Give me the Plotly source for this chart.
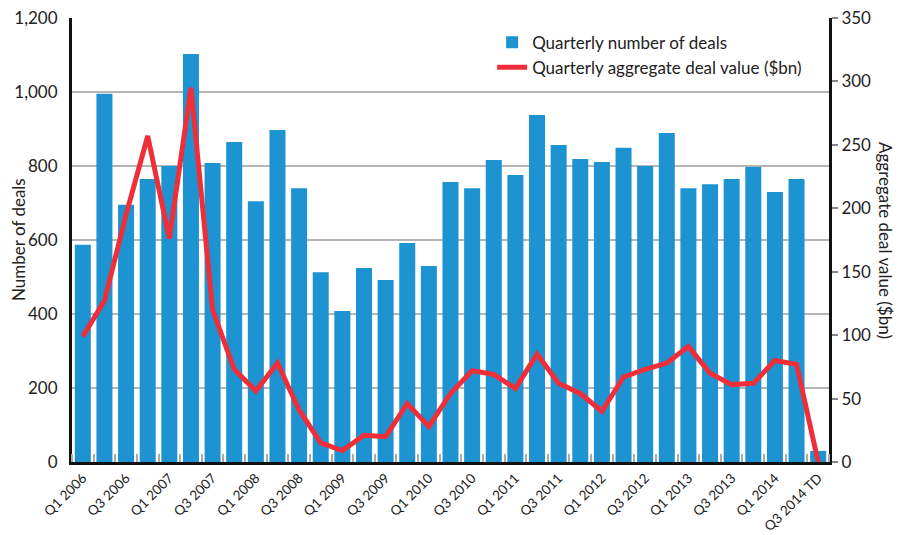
import plotly.graph_objects as go

quarters = [
    "Q1 2006", "Q2 2006", "Q3 2006", "Q4 2006",
    "Q1 2007", "Q2 2007", "Q3 2007", "Q4 2007",
    "Q1 2008", "Q2 2008", "Q3 2008", "Q4 2008",
    "Q1 2009", "Q2 2009", "Q3 2009", "Q4 2009",
    "Q1 2010", "Q2 2010", "Q3 2010", "Q4 2010",
    "Q1 2011", "Q2 2011", "Q3 2011", "Q4 2011",
    "Q1 2012", "Q2 2012", "Q3 2012", "Q4 2012",
    "Q1 2013", "Q2 2013", "Q3 2013", "Q4 2013",
    "Q1 2014", "Q2 2014", "Q3 2014 TD",
]

deals = [
    587, 995, 695, 765,
    800, 1103, 808, 865,
    705, 897, 740, 513,
    408, 524, 492, 592,
    530, 757, 740, 816,
    776, 938, 857, 819,
    811, 849, 800, 889,
    740, 751, 765, 797,
    730, 765, 30,
]

value_bn = [
    99, 127, 195, 257,
    176, 295, 120, 73,
    56, 78, 41, 15,
    9, 21, 20, 46,
    28, 54, 72, 69,
    58, 85, 62, 54,
    40, 67, 73, 78,
    91, 70, 61, 62,
    80, 77, 0,
]

left_ticks = [0, 200, 400, 600, 800, 1000, 1200]
right_ticks = [0, 50, 100, 150, 200, 250, 300, 350]

idx = list(range(len(quarters)))
FONT = "Lato"
BAR = "#1D93D1"
LINE = "#EE2F39"

fig = go.Figure()
fig.add_trace(go.Bar(
    x=idx, y=deals, name="Quarterly number of deals",
    marker=dict(color=BAR, line=dict(width=0)), yaxis="y",
))
fig.add_trace(go.Scatter(
    x=idx, y=value_bn, name="Quarterly aggregate deal value ($bn)",
    mode="lines", line=dict(color=LINE, width=5), yaxis="y2",
))

fig.update_layout(
    width=904, height=535,
    margin=dict(l=72, r=75, t=18, b=73),
    paper_bgcolor="white", plot_bgcolor="white",
    font=dict(family=FONT, size=17, color="#222222"),
    bargap=0.26,
    showlegend=True,
    legend=dict(
        x=0.555, y=0.985, xanchor="left", yanchor="top",
        bgcolor="rgba(0,0,0,0)", font=dict(size=17, family=FONT, color="#222"),
        itemwidth=30, tracegroupgap=0,
    ),
    xaxis=dict(
        automargin=False,
        range=[-0.5, len(quarters) - 0.5],
        tickmode="array", tickvals=idx[::2], ticktext=quarters[::2],
        tickangle=-45, tickfont=dict(size=13.5, family=FONT),
        ticks="", showgrid=False, zeroline=False,
        showline=True, linecolor="#111", linewidth=3,
        minor=dict(tickmode="linear", tick0=0.5, dtick=1, ticks="inside",
                   ticklen=8, tickwidth=2, tickcolor="#aaaaaa", showgrid=False),
    ),
    yaxis=dict(
        automargin=False,
        range=[0, 1200], tickvals=left_ticks, tickformat=",",
        showgrid=True, gridcolor="#b5b5b5", gridwidth=1.5,
        zeroline=False, showline=True, linecolor="#111", linewidth=3,
        ticks="", ticklabelstandoff=8, tickfont=dict(size=17, family=FONT),
    ),
    yaxis2=dict(
        automargin=False,
        range=[0, 350], tickvals=right_ticks, overlaying="y", side="right",
        showgrid=False, zeroline=False, showline=True, linecolor="#111", linewidth=3,
        ticks="outside", ticklen=6, tickcolor="#888", tickwidth=1.5,
        tickfont=dict(size=17, family=FONT),
    ),
    annotations=[
        dict(
            text="Number of deals", textangle=-90,
            xref="paper", yref="paper", x=0.0, y=0.5, xshift=-54,
            xanchor="center", yanchor="middle", showarrow=False,
            font=dict(size=17, family=FONT, color="#222"),
        ),
        dict(
            text="Aggregate deal value ($bn)", textangle=90,
            xref="paper", yref="paper", x=1.0, y=0.5, xshift=57,
            xanchor="center", yanchor="middle", showarrow=False,
            font=dict(size=17, family=FONT, color="#222"),
        ),
    ],
)

fig.write_html("out.html", config={"displayModeBar": False},
               post_script="document.body.style.margin='0';")
